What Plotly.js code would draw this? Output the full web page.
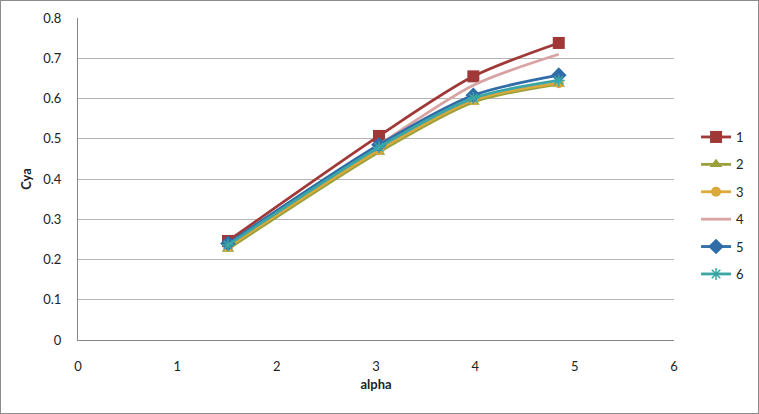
<!DOCTYPE html>
<html>
<head>
<meta charset="utf-8">
<script src="https://cdn.plot.ly/plotly-3.0.1.min.js"></script>
<style>
html,body{margin:0;padding:0;background:#fff;}
#wrap{position:absolute;left:0;top:0;width:757px;height:412px;border:1px solid #8c8c8c;}
#chart{width:757px;height:412px;}
</style>
</head>
<body>
<div id="wrap"><div id="chart"></div></div>
<script>
var alpha = [1.51, 3.03, 3.98, 4.84];
var seriesNames = ['1', '2', '3', '4', '5', '6'];
var s1 = [0.246, 0.507, 0.655, 0.738];
var s2 = [0.226, 0.467, 0.591, 0.636];
var s3 = [0.231, 0.472, 0.596, 0.638];
var s4 = [0.238, 0.485, 0.633, 0.710];
var s5 = [0.240, 0.485, 0.608, 0.658];
var s6 = [0.236, 0.479, 0.601, 0.645];
var yTickVals = [0, 0.1, 0.2, 0.3, 0.4, 0.5, 0.6, 0.7, 0.8];
var yTickText = ['0', '0.1', '0.2', '0.3', '0.4', '0.5', '0.6', '0.7', '0.8'];
var xTickVals = [0, 1, 2, 3, 4, 5, 6];

var values = [s1, s2, s3, s4, s5, s6];
var colors = ['#A03838', '#9AA03A', '#DBA83C', '#D9A3A3', '#2F6CA8', '#3BA6A6'];
var symbols = ['square', 'triangle-up', 'circle', null, 'diamond', 'asterisk-open'];
var sizes = [12, 11, 10, 0, 12, 10];

var traces = values.map(function (v, i) {
  var t = {
    x: alpha, y: v, name: seriesNames[i], type: 'scatter',
    mode: symbols[i] ? 'lines+markers' : 'lines',
    line: {color: colors[i], width: 2.8, shape: 'spline', smoothing: 0.8},
    legendgroup: 'g' + i
  };
  if (symbols[i]) {
    t.marker = {symbol: symbols[i], size: sizes[i], color: colors[i],
      line: {color: colors[i], width: symbols[i] === 'asterisk-open' ? 1.5 : 0}};
  }
  return t;
});

var layout = {
  width: 757, height: 412,
  margin: {l: 77, r: 84, t: 17, b: 73, pad: 0, autoexpand: false},
  paper_bgcolor: '#ffffff', plot_bgcolor: '#ffffff',
  font: {family: 'Lato, "Open Sans", sans-serif', size: 13, color: '#222'},
  showlegend: true,
  legend: {x: 1.037, xanchor: 'left', y: 0.677, yanchor: 'top',
    font: {size: 13, color: '#222'}, tracegroupgap: 7.5, itemwidth: 30,
    bgcolor: 'rgba(0,0,0,0)'},
  xaxis: {
    range: [0, 6], tickvals: xTickVals, showgrid: false, zeroline: false,
    showline: true, linecolor: '#868686', linewidth: 1,
    ticks: '', ticklabelstandoff: 14,
    tickfont: {size: 13, color: '#222'},
    title: {text: 'alpha', font: {size: 13, color: '#222', weight: 'bold'}, standoff: 7}
  },
  yaxis: {
    range: [0, 0.8], tickvals: yTickVals, ticktext: yTickText,
    showgrid: true, gridcolor: '#b4b4b4', gridwidth: 1, zeroline: false,
    showline: true, linecolor: '#868686', linewidth: 1,
    ticks: '', ticklabelstandoff: 13,
    tickfont: {size: 13, color: '#222'},
    title: {text: 'Cya', font: {size: 13, color: '#222', weight: 'bold'}, standoff: 8}
  }
};

Plotly.newPlot('chart', traces, layout, {displayModeBar: false, staticPlot: true});
</script>
</body>
</html>
